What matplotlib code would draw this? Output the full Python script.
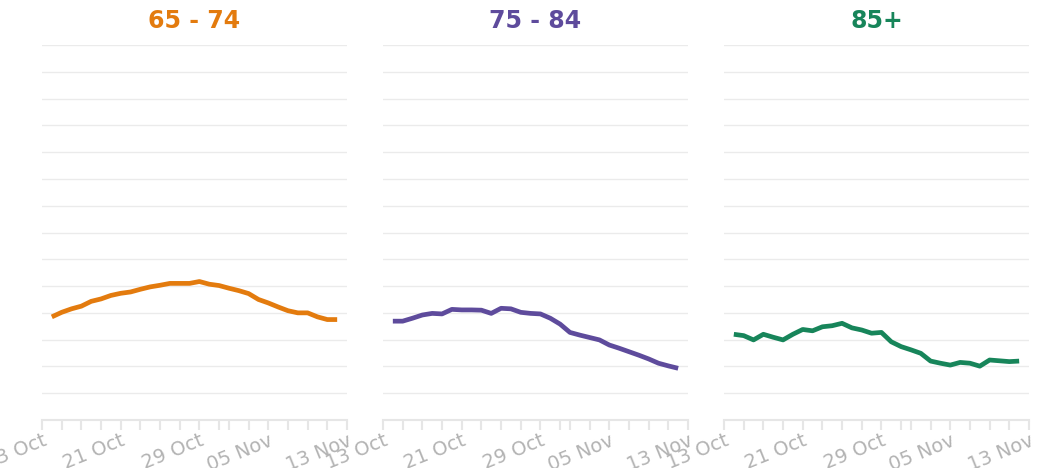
import matplotlib
matplotlib.use("Agg")
import matplotlib.pyplot as plt
import matplotlib.transforms as mtransforms
import pandas as pd

# daily values, 14 Oct - 12 Nov
dates = pd.date_range("2020-10-14", "2020-11-12", freq="D")

age_65_74 = [38.5, 40.2, 41.5, 42.5, 44.3, 45.2, 46.5, 47.3, 47.8, 48.8,
             49.7, 50.3, 51.0, 51.0, 51.0, 51.7, 50.7, 50.2, 49.2, 48.3,
             47.2, 45.0, 43.7, 42.2, 40.8, 40.0, 40.0, 38.5, 37.5, 37.5]
age_75_84 = [36.9, 36.9, 38.0, 39.2, 39.8, 39.6, 41.3, 41.1, 41.1, 41.0,
             39.8, 41.7, 41.5, 40.2, 39.8, 39.6, 38.0, 35.8, 32.7, 31.7,
             30.8, 29.9, 28.0, 26.8, 25.5, 24.2, 22.8, 21.2, 20.2, 19.3]
age_85_plus = [32.0, 31.5, 29.9, 32.0, 30.9, 29.9, 32.0, 33.8, 33.3, 34.8,
               35.2, 36.1, 34.4, 33.6, 32.4, 32.7, 29.2, 27.4, 26.2, 24.9,
               22.0, 21.2, 20.5, 21.5, 21.2, 20.1, 22.4, 22.1, 21.8, 22.0]

titles = ["65 - 74", "75 - 84", "85+"]
colors = ["#e37b0e", "#5e4b9c", "#17855a"]
series = [age_65_74, age_75_84, age_85_plus]

tick_dates = list(pd.date_range("2020-10-13", "2020-10-31", freq="2D")) + \
    list(pd.date_range("2020-11-01", "2020-11-13", freq="2D"))
labelled = {"13 Oct", "21 Oct", "29 Oct", "05 Nov", "13 Nov"}
tick_labels = [d.strftime("%d %b") if d.strftime("%d %b") in labelled else ""
               for d in tick_dates]

fig = plt.figure(figsize=(10.37, 4.68), dpi=100)
lefts = [42, 383, 724]
shift = mtransforms.ScaledTranslation(8 / 100, 0, fig.dpi_scale_trans)
for left, title, color, values in zip(lefts, titles, colors, series):
    ax = fig.add_axes([left / 1037, 48 / 468, 305 / 1037, 375 / 468])
    ax.plot(dates, values, color=color, lw=3.4, solid_capstyle="butt")
    ax.set_ylim(0, 140)
    ax.set_yticks(range(10, 141, 10))
    ax.set_yticklabels([])
    ax.tick_params(axis="y", length=0)
    ax.grid(axis="y", color="#ebebeb", lw=1)
    ax.set_axisbelow(True)
    ax.set_xlim(pd.Timestamp("2020-10-13"), pd.Timestamp("2020-11-13"))
    ax.set_xticks(tick_dates)
    ax.set_xticklabels(tick_labels, rotation=22, ha="right",
                       rotation_mode="anchor", color="#b3b3b3", fontsize=14)
    for lbl in ax.get_xticklabels():
        lbl.set_transform(lbl.get_transform() + shift)
    ax.tick_params(axis="x", length=7, width=1.5, color="#e6e6e6", pad=1)
    for s in ["top", "right", "left"]:
        ax.spines[s].set_visible(False)
    ax.spines["bottom"].set_color("#e6e6e6")
    ax.spines["bottom"].set_linewidth(1.5)
    ax.set_title(title, color=color, fontsize=17, fontweight="heavy", pad=12)

fig.savefig("out.png", dpi=100)
